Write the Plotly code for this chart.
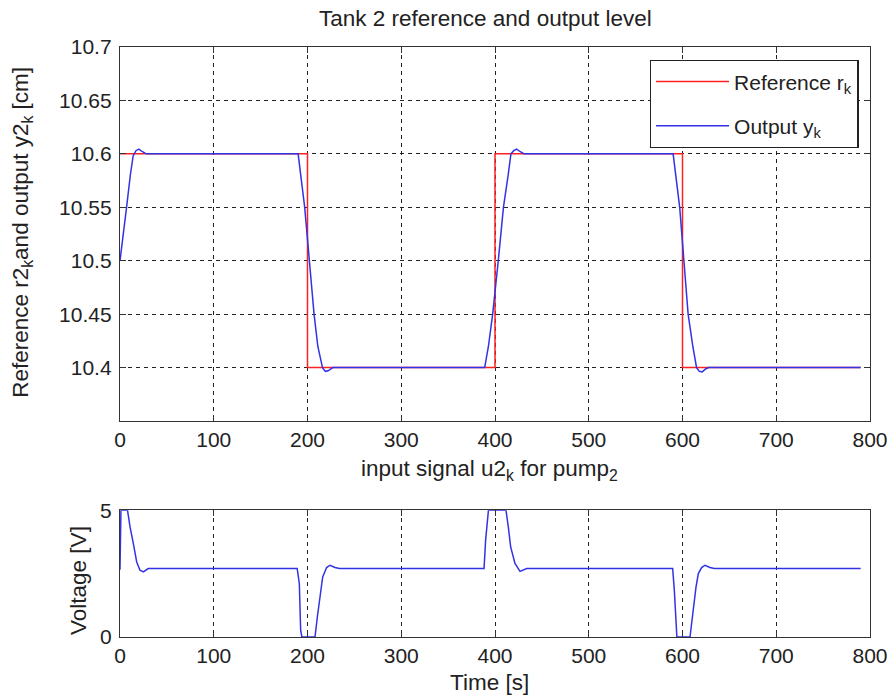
import plotly.graph_objects as go

# ---------------- data ----------------
time_ref = [0, 200, 400, 600, 790]
ref_level = [10.6, 10.4, 10.6, 10.4, 10.4]

time_out = [0, 3, 7, 11, 14, 17, 20, 24, 28,
            190, 193, 197, 202, 207, 211, 216, 219, 222, 227,
            389, 393, 397.5, 403.5, 409, 414, 417, 420, 423, 427, 431,
            590, 593, 597, 601.5, 606, 611, 615, 618, 621, 625, 628, 790]
out_level = [10.5, 10.52, 10.55, 10.58, 10.598, 10.603, 10.6045, 10.602, 10.6,
             10.6, 10.58, 10.55, 10.5, 10.45, 10.42, 10.4, 10.3965, 10.397, 10.4,
             10.4, 10.42, 10.45, 10.5, 10.55, 10.58, 10.6, 10.603, 10.6045, 10.602, 10.6,
             10.6, 10.58, 10.55, 10.5, 10.45, 10.42, 10.4, 10.3965, 10.396, 10.399, 10.4, 10.4]

time_u = [0, 1, 8, 10.7, 14.2, 17.8, 21.3, 25, 30,
          189, 191.3, 192.7, 194, 208, 210.5, 213.3, 216.2, 220.4, 224, 229.3, 234,
          388.3, 390, 393, 411.7, 414.2, 416.7, 421.3, 426.7, 433.8,
          589.5, 591.3, 593, 594, 608, 610.5, 614.4, 616.9, 620.4, 624, 629.3, 634, 790]
u_volt = [2.65, 5, 5, 4.34, 3.69, 2.96, 2.63, 2.57, 2.70,
          2.70, 2.1, 0.27, 0, 0, 0.79, 1.58, 2.37, 2.74, 2.83, 2.74, 2.70,
          2.70, 3.82, 5, 5, 4.34, 3.55, 2.9, 2.59, 2.70,
          2.70, 1.84, 0.3, 0, 0, 0.79, 1.97, 2.5, 2.74, 2.83, 2.74, 2.70, 2.70]

x_ticks = [0, 100, 200, 300, 400, 500, 600, 700, 800]
y_ticks_top = [10.4, 10.45, 10.5, 10.55, 10.6, 10.65, 10.7]
y_tick_text_top = ["10.4", "10.45", "10.5", "10.55", "10.6", "10.65", "10.7"]
y_ticks_bot = [0, 5]

# ---------------- figure ----------------
FONT = "Liberation Sans, Arial, sans-serif"
TXT = "#222222"
TICK = 21
LAB = 22.5

fig = go.Figure()
fig.add_trace(go.Scatter(x=time_ref, y=ref_level, mode="lines", line_shape="hv",
                         line=dict(color="#ff2020", width=1.5), legendgroup="r",
                         name="Reference r<sub>k</sub>", xaxis="x", yaxis="y"))
fig.add_trace(go.Scatter(x=time_out, y=out_level, mode="lines",
                         line=dict(color="#3232e6", width=1.5), legendgroup="y",
                         name="Output y<sub>k</sub>", xaxis="x", yaxis="y"))
fig.add_trace(go.Scatter(x=time_u, y=u_volt, mode="lines",
                         line=dict(color="#3232e6", width=1.5),
                         showlegend=False, xaxis="x2", yaxis="y2"))

common_x = dict(range=[0, 800], tickvals=x_ticks, ticks="inside", ticklen=6,
                tickcolor="#333", showline=True, linecolor="#333", linewidth=1.3,
                mirror="ticks", showgrid=True, gridcolor="#222", griddash="4px,4px",
                gridwidth=1, zeroline=False, automargin=False,
                tickfont=dict(family=FONT, size=TICK, color=TXT))
common_y = dict(ticks="inside", ticklen=6, tickcolor="#333", showline=True,
                linecolor="#333", linewidth=1.3, mirror="ticks", zeroline=False,
                automargin=False,
                tickfont=dict(family=FONT, size=TICK, color=TXT),
                ticklabelstandoff=3)

fig.update_layout(
    width=888, height=695,
    margin=dict(l=120, r=18, t=47, b=58),
    paper_bgcolor="white", plot_bgcolor="white",
    showlegend=True,
    xaxis=dict(domain=[0, 1], anchor="y", **common_x),
    yaxis=dict(domain=[0.366, 1], anchor="x", range=[10.35, 10.7],
               tickvals=y_ticks_top, ticktext=y_tick_text_top,
               showgrid=True, gridcolor="#222", griddash="4px,4px", gridwidth=1,
               **common_y),
    xaxis2=dict(domain=[0, 1], anchor="y2", **common_x),
    yaxis2=dict(domain=[0, 0.2149], anchor="x2", range=[0, 5], tickvals=y_ticks_bot,
                showgrid=False, **common_y),
    legend=dict(x=0.985, y=0.978, xanchor="right", yanchor="top",
                bgcolor="white", bordercolor="#222", borderwidth=1.3,
                font=dict(family=FONT, size=TICK, color=TXT),
                itemwidth=73, tracegroupgap=14),
)

ann = [
    dict(text="Tank 2 reference and output level", x=0.487, y=1, yshift=29),
    dict(text="input signal u2<sub>k</sub> for pump<sub>2</sub>", x=0.493, y=0.2149, yshift=40),
    dict(text="Time [s]", x=0.493, y=0, yshift=-45),
    dict(text="Reference r2<sub>k</sub>and output y2<sub>k</sub> [cm]", x=0, xshift=-98,
         y=0.685, textangle=-90),
    dict(text="Voltage [V]", x=0, xshift=-41, y=0.095, textangle=-90),
]
for a in ann:
    a.update(xref="paper", yref="paper", xanchor="center", yanchor="middle",
             showarrow=False, font=dict(family=FONT, size=LAB, color=TXT))
fig.update_layout(annotations=ann)

# remove the page's default body margin so the figure fills the window exactly
fig.write_html("out.html",
               config={"displayModeBar": False},
               post_script="document.body.style.margin='0';"
                           "document.body.style.overflow='hidden';")
